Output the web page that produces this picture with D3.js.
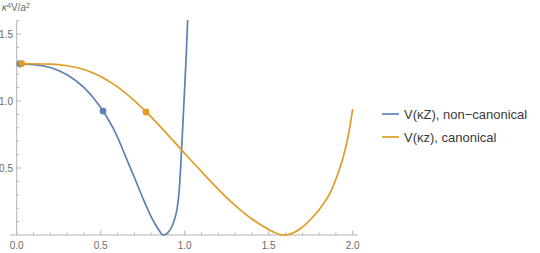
<!DOCTYPE html>
<html>
<head>
<meta charset="utf-8">
<script src="https://cdn.jsdelivr.net/npm/d3@7"></script>
<style>
  body { margin: 0; background: #fff; }
  svg { display: block; font-family: "Liberation Sans", Arial, sans-serif; }
</style>
</head>
<body>
<div id="chart"></div>
<script>
// curve samples: [x, V]
const nonCanonical = [
    [0.00, 1.276], [0.10, 1.272], [0.20, 1.250], [0.30, 1.196], [0.40, 1.101],
    [0.50, 0.951], [0.60, 0.731], [0.65, 0.580], [0.70, 0.431], [0.75, 0.278],
    [0.80, 0.138], [0.83, 0.069], [0.85, 0.030], [0.86, 0.012], [0.871, 0.0],
    [0.895, 0.012], [0.913, 0.038], [0.930, 0.082], [0.942, 0.127], [0.954, 0.192],
    [0.966, 0.313], [0.975, 0.485], [0.984, 0.700], [0.996, 1.000], [1.008, 1.310],
    [1.0175, 1.604]
];
const canonical = [
    [0.00, 1.280], [0.20, 1.275], [0.30, 1.263], [0.40, 1.235], [0.50, 1.183],
    [0.60, 1.105], [0.70, 1.003], [0.80, 0.881], [0.90, 0.747], [1.00, 0.609],
    [1.10, 0.473], [1.20, 0.341], [1.30, 0.221], [1.40, 0.119], [1.50, 0.041],
    [1.54, 0.015], [1.585, 0.0], [1.62, 0.005], [1.686, 0.045], [1.755, 0.123],
    [1.81, 0.205], [1.865, 0.313], [1.91, 0.450], [1.944, 0.584], [1.975, 0.750],
    [2.0, 0.940]
];
const dotsNonCanonical = [[0.02, 1.276], [0.514, 0.925]];
const dotsCanonical = [[0.03, 1.279], [0.77, 0.918]];

const xTicks = [0, 0.5, 1.0, 1.5, 2.0];
const yTicks = [0.5, 1.0, 1.5];
const legendLabels = ["V(\u03baZ), non\u2212canonical", "V(\u03baz), canonical"];
const colors = ["#5e81b5", "#e19c24"];

const width = 540, height = 253;
const axisColor = "#b3b3b3";
const labelColor = "#6b6b6b";

const svg = d3.select("#chart")
    .append("svg")
    .attr("width", width)
    .attr("height", height);

const x = d3.scaleLinear().domain([0, 2]).range([16.7, 352.7]);
const y = d3.scaleLinear().domain([0, 1.6]).range([235, 20.6]);

// axes (Mathematica style: ticks pointing inward)
const axes = svg.append("g");
axes.append("line")
    .attr("x1", x(-0.04)).attr("x2", x(2.03))
    .attr("y1", y(0)).attr("y2", y(0))
    .style("stroke", axisColor);
axes.append("line")
    .attr("x1", x(0)).attr("x2", x(0))
    .attr("y1", y(0)).attr("y2", y(1.6))
    .style("stroke", axisColor);

const xMinor = d3.range(0, 2.001, 0.1);
axes.selectAll(".xt")
    .data(xMinor)
    .enter()
    .append("line")
    .attr("x1", d => x(d)).attr("x2", d => x(d))
    .attr("y1", y(0))
    .attr("y2", (d, i) => y(0) - (i % 5 === 0 ? 4.5 : 2.5))
    .style("stroke", axisColor);

const yMinor = d3.range(0.1, 1.601, 0.1);
axes.selectAll(".yt")
    .data(yMinor)
    .enter()
    .append("line")
    .attr("y1", d => y(d)).attr("y2", d => y(d))
    .attr("x1", x(0))
    .attr("x2", (d, i) => x(0) + ((i + 1) % 5 === 0 ? 4.5 : 2.5))
    .style("stroke", axisColor);

axes.selectAll(".xl")
    .data(xTicks)
    .enter()
    .append("text")
    .attr("x", d => x(d))
    .attr("y", 249)
    .attr("text-anchor", "middle")
    .style("font-size", "10px")
    .style("fill", labelColor)
    .text(d => d.toFixed(1));

axes.selectAll(".yl")
    .data(yTicks)
    .enter()
    .append("text")
    .attr("x", 13)
    .attr("y", d => y(d) + 3.5)
    .attr("text-anchor", "end")
    .style("font-size", "10px")
    .style("fill", labelColor)
    .text(d => d.toFixed(1));

// axis label kappa^4 V / a^2
const lab = svg.append("text")
    .attr("x", 2).attr("y", 11)
    .style("font-size", "10px")
    .style("fill", labelColor);
lab.append("tspan").style("font-style", "italic").text("\u03ba");
lab.append("tspan").attr("dy", -3.5).style("font-size", "7px").text("4");
lab.append("tspan").attr("dy", 3.5).text("V/");
lab.append("tspan").style("font-style", "italic").text("a");
lab.append("tspan").attr("dy", -3.5).style("font-size", "7px").text("2");

// curves
const line = d3.line()
    .x(d => x(d[0]))
    .y(d => y(d[1]))
    .curve(d3.curveMonotoneX);

const plot = svg.append("g");
[nonCanonical, canonical].forEach((series, i) => {
    plot.append("path")
        .datum(series)
        .attr("d", line)
        .style("fill", "none")
        .style("stroke", colors[i])
        .style("stroke-width", 1.7);
});

[dotsNonCanonical, dotsCanonical].forEach((pts, i) => {
    plot.selectAll(".dot" + i)
        .data(pts)
        .enter()
        .append("circle")
        .attr("cx", d => x(d[0]))
        .attr("cy", d => y(d[1]))
        .attr("r", 3.4)
        .style("fill", colors[i]);
});

// legend
const legend = svg.append("g");
legendLabels.forEach((t, i) => {
    const ly = 114 + i * 23;
    legend.append("line")
        .attr("x1", 382).attr("x2", 399)
        .attr("y1", ly).attr("y2", ly)
        .style("stroke", colors[i])
        .style("stroke-width", 1.7);
    legend.append("text")
        .attr("x", 404).attr("y", ly + 4.5)
        .style("font-size", "13px")
        .style("fill", "#3a3a3a")
        .text(t);
});
</script>
</body>
</html>
